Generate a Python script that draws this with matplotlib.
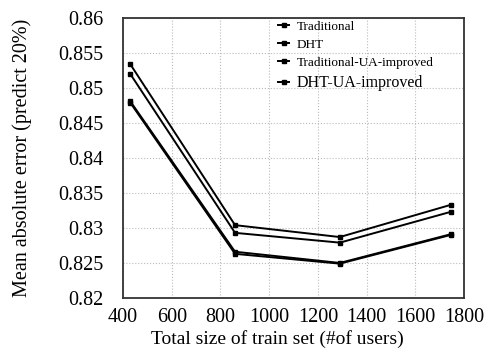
import matplotlib
matplotlib.use("Agg")
import matplotlib.pyplot as plt

plt.rcParams["font.family"] = ["Liberation Serif", "DejaVu Serif"]

train_sizes = [430, 860, 1290, 1745]
traditional = [0.8534, 0.8304, 0.8287, 0.8333]
dht = [0.8520, 0.8293, 0.8279, 0.8323]
traditional_ua = [0.8481, 0.8266, 0.8250, 0.8291]
dht_ua = [0.8479, 0.8263, 0.8249, 0.8290]

series_labels = ["Traditional", "DHT", "Traditional-UA-improved", "DHT-UA-improved"]
x_ticks = [400, 600, 800, 1000, 1200, 1400, 1600, 1800]
y_ticks = [0.82, 0.825, 0.83, 0.835, 0.84, 0.845, 0.85, 0.855, 0.86]
y_tick_labels = ["0.82", "0.825", "0.83", "0.835", "0.84", "0.845", "0.85", "0.855", "0.86"]

fig = plt.figure(figsize=(4.88, 3.53), dpi=100)
ax = fig.add_axes([0.252, 0.156, 0.699, 0.793])

for values, label in zip([traditional, dht, traditional_ua, dht_ua], series_labels):
    ax.plot(train_sizes, values, color="black", linewidth=1.4,
            marker="s", markersize=2.5, label=label)

ax.set_xlim(400, 1800)
ax.set_ylim(0.82, 0.86)
ax.set_xticks(x_ticks)
ax.set_yticks(y_ticks)
ax.set_yticklabels(y_tick_labels)
ax.tick_params(length=0, labelsize=14.5)
ax.tick_params(axis="x", pad=7)
ax.tick_params(axis="y", pad=14)
ax.grid(True, color="#bbbbbb", linestyle=":", linewidth=0.8)
for spine in ax.spines.values():
    spine.set_color("#333333")
    spine.set_linewidth(1.3)

ax.set_xlabel("Total size of train set (#of users)", fontsize=14)
ax.set_ylabel("Mean absolute error (predict 20%)", fontsize=14.5, labelpad=19)
ax.xaxis.set_label_coords(0.453, -0.113)

leg = ax.legend(loc="upper left", bbox_to_anchor=(0.44, 1.01), frameon=False,
                fontsize=9.5, handlelength=0.8, handletextpad=0.6,
                labelspacing=0.45, borderaxespad=0)
leg.get_texts()[3].set_fontsize(11.5)

fig.savefig("out.png", dpi=100)
